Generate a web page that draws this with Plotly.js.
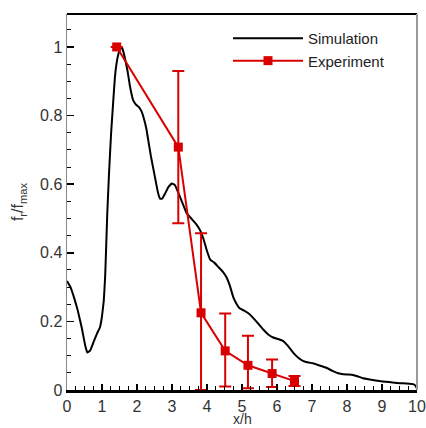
<!DOCTYPE html>
<html>
<head>
<meta charset="utf-8">
<script src="https://cdn.plot.ly/plotly-3.0.1.min.js"></script>
<style>html,body{margin:0;padding:0;background:#fff;}#chart{width:426px;height:428px;}</style>
</head>
<body>
<div id="chart"></div>
<script>
// Simulation curve (x/h, f_r/f_max)
const simX = [0, 0.1, 0.2, 0.3, 0.42, 0.52, 0.58, 0.66, 0.76, 0.86, 0.94, 1.0, 1.05, 1.09, 1.12, 1.15, 1.2, 1.26, 1.32, 1.37, 1.42, 1.47, 1.52, 1.56, 1.6, 1.66, 1.73, 1.8, 1.89, 1.97, 2.05, 2.13, 2.2, 2.27, 2.32, 2.4, 2.51, 2.6, 2.66, 2.72, 2.8, 2.9, 3.0, 3.08, 3.18, 3.3, 3.42, 3.55, 3.68, 3.8, 3.9, 4.0, 4.09, 4.2, 4.32, 4.45, 4.56, 4.65, 4.75, 4.85, 4.93, 5.05, 5.2, 5.31, 5.45, 5.6, 5.75, 5.89, 6.05, 6.17, 6.3, 6.46, 6.6, 6.74, 6.9, 7.03, 7.2, 7.41, 7.6, 7.75, 7.89, 8.05, 8.17, 8.3, 8.46, 8.7, 8.93, 9.2, 9.51, 9.7, 9.89, 9.96, 10];
const simY = [0.318, 0.3, 0.27, 0.235, 0.182, 0.13, 0.109, 0.115, 0.14, 0.165, 0.182, 0.215, 0.26, 0.33, 0.42, 0.513, 0.63, 0.748, 0.84, 0.913, 0.955, 0.98, 0.995, 1.0, 0.99, 0.965, 0.93, 0.885, 0.845, 0.832, 0.825, 0.812, 0.79, 0.76, 0.729, 0.68, 0.622, 0.575, 0.558, 0.558, 0.572, 0.592, 0.602, 0.598, 0.575, 0.545, 0.515, 0.5, 0.485, 0.466, 0.44, 0.405, 0.38, 0.372, 0.359, 0.345, 0.328, 0.305, 0.271, 0.25, 0.238, 0.232, 0.222, 0.211, 0.195, 0.177, 0.162, 0.153, 0.148, 0.143, 0.13, 0.109, 0.095, 0.085, 0.08, 0.078, 0.072, 0.065, 0.055, 0.049, 0.046, 0.045, 0.044, 0.04, 0.034, 0.03, 0.026, 0.023, 0.02, 0.019, 0.017, 0.012, 0.004];

// Experiment points with error bars
const expX = [1.42, 3.18, 3.83, 4.52, 5.17, 5.86, 6.5];
const expY = [1.0, 0.708, 0.225, 0.114, 0.072, 0.048, 0.026];
const expErrPlus = [0, 0.222, 0.232, 0.109, 0.086, 0.041, 0.015];
const expErrMinus = [0, 0.222, 0.225, 0.104, 0.067, 0.039, 0.014];

const seriesNames = ['Simulation', 'Experiment'];
const xTitle = 'x/h';
const yTitle = 'f<sub>r</sub>/f<sub>max</sub>';

const red = '#d80000';
const traces = [
  {
    x: simX, y: simY, type: 'scatter', mode: 'lines', name: seriesNames[0],
    line: {color: '#000', width: 2, shape: 'spline', smoothing: 0.3}
  },
  {
    x: expX, y: expY, type: 'scatter', mode: 'lines+markers', name: seriesNames[1],
    line: {color: red, width: 2},
    marker: {symbol: 'square', size: 9, color: red},
    error_y: {type: 'data', symmetric: false, array: expErrPlus, arrayminus: expErrMinus,
      color: red, thickness: 2, width: 6}
  }
];

const fam = 'Liberation Sans, Arial, sans-serif';
const tickFont = {family: fam, size: 16, color: '#333'};
const layout = {
  width: 426, height: 428,
  margin: {l: 67, r: 9, t: 14, b: 38, pad: 0},
  paper_bgcolor: '#fff', plot_bgcolor: '#fff',
  showlegend: true,
  legend: {
    x: 0.46, y: 0.979, xanchor: 'left', yanchor: 'top',
    bgcolor: 'rgba(0,0,0,0)', borderwidth: 0,
    font: {family: fam, size: 15, color: '#222'},
    itemwidth: 70, tracegroupgap: 0
  },
  xaxis: {
    range: [0, 10], dtick: 1, tick0: 0,
    ticks: 'inside', ticklen: 6, tickwidth: 1.5, tickcolor: '#000',
    minor: {dtick: 0.25, ticks: 'inside', ticklen: 4, tickwidth: 1, tickcolor: '#000'},
    showline: true, linecolor: '#000', linewidth: 3,
    showgrid: false, zeroline: false,
    tickfont: tickFont, ticklabeloverflow: 'allow',
    automargin: false
  },
  yaxis: {
    range: [0, 1.096], dtick: 0.2, tick0: 0,
    ticks: 'inside', ticklen: 7, tickwidth: 1.5, tickcolor: '#000',
    minor: {dtick: 0.05, ticks: 'inside', ticklen: 4, tickwidth: 1, tickcolor: '#000'},
    showline: true, linecolor: '#888', linewidth: 1.5,
    showgrid: false, zeroline: false,
    tickfont: tickFont, automargin: false,
    title: {text: yTitle, font: {family: fam, size: 16, color: '#333'}, standoff: 12}
  },
  annotations: [
    {text: xTitle, xref: 'paper', yref: 'paper', x: 0.5, y: -0.101, xanchor: 'center', yanchor: 'bottom',
     showarrow: false, font: {family: fam, size: 14, color: '#333'}, borderpad: 0}
  ],
  shapes: [
    {type: 'line', xref: 'paper', yref: 'paper', x0: 0, x1: 1, y0: 1, y1: 1, line: {color: '#000', width: 2}},
    {type: 'line', xref: 'paper', yref: 'paper', x0: 1, x1: 1, y0: 0, y1: 1, line: {color: '#999', width: 2}}
  ]
};

Plotly.newPlot('chart', traces, layout, {displayModeBar: false, staticPlot: true});
</script>
</body>
</html>
